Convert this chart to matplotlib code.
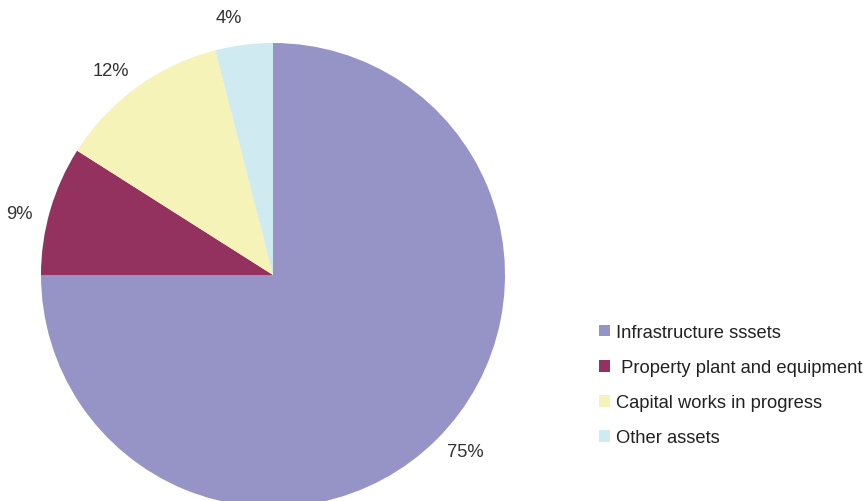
import numpy as np
import matplotlib.pyplot as plt
from matplotlib.patches import Patch

plt.rcParams['font.family'] = ['Liberation Sans', 'DejaVu Sans']

categories = ['Infrastructure sssets', ' Property plant and equipment',
              'Capital works in progress', 'Other assets']
shares = [75, 9, 12, 4]
colors = ['#9693c7', '#93325e', '#f5f3b8', '#cfeaf0']

W, H = 868, 502
cx, cy, R = 273, H - 276, 232
fig = plt.figure(figsize=(W / 100, H / 100), dpi=100)
ax = fig.add_axes([0, 0, 1, 1])

wedges, texts, autotexts = ax.pie(
    shares, colors=colors, startangle=90, counterclock=False,
    center=(cx, cy), radius=R, frame=True,
    autopct='%1.0f%%', pctdistance=1.12,
    textprops={'fontsize': 13.2, 'color': '#333333'},
)
# nudge the percentage labels a little counter-clockwise, outside the rim
for w, t in zip(wedges, autotexts):
    mid = np.deg2rad((w.theta1 + w.theta2) / 2 + 2.5)
    t.set_position((cx + 1.125 * R * np.cos(mid), cy + 1.125 * R * np.sin(mid)))

ax.set_xlim(0, W)
ax.set_ylim(0, H)
ax.set_aspect('equal')
ax.axis('off')

handles = [Patch(facecolor=c, edgecolor='none') for c in colors]
leg = fig.legend(handles, categories, loc='upper left',
                 bbox_to_anchor=(599 / W, 1 - 325 / H),
                 frameon=False, fontsize=13.2, labelspacing=0.99,
                 handlelength=0.62, handleheight=0.62, handletextpad=0.3,
                 borderpad=0, borderaxespad=0)
for t in leg.get_texts():
    t.set_color('#222222')

fig.savefig('out.png', dpi=100)
